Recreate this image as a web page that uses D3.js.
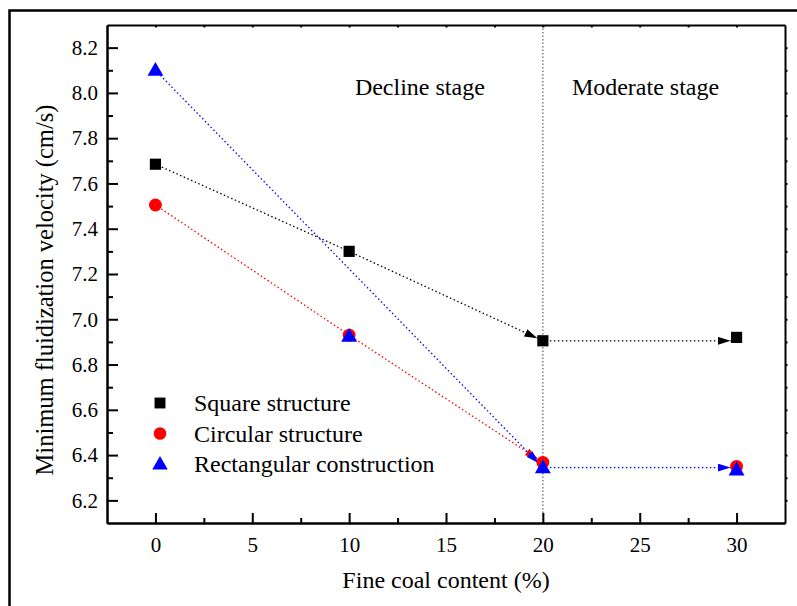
<!DOCTYPE html>
<html>
<head>
<meta charset="utf-8">
<script src="https://cdn.jsdelivr.net/npm/d3@7"></script>
<style>
  html, body { margin: 0; padding: 0; background: #fff; }
  svg { display: block; }
  svg text { font-family: "Liberation Serif", "Times New Roman", serif; fill: #000; }
</style>
</head>
<body>
<svg id="chart" width="797" height="606"></svg>
<script>
// Fine coal content (%) on the x axis
const fineCoal = [0, 10, 20, 30];
// Minimum fluidization velocity (cm/s) for each structure
const squareVel = [7.685, 7.30, 6.905, 6.92];
const circularVel = [7.505, 6.93, 6.368, 6.35];
const rectangularVel = [8.10, 6.925, 6.345, 6.335];

const seriesNames = ["Square structure", "Circular structure", "Rectangular construction"];
const xTickValues = [0, 5, 10, 15, 20, 25, 30];
const yTickValues = [6.2, 6.4, 6.6, 6.8, 7.0, 7.2, 7.4, 7.6, 7.8, 8.0, 8.2];
const stageLabels = ["Decline stage", "Moderate stage"];

// trend arrows: [from index, to index, keep level of start point, arrowhead]
const squareArrows = [[0, 1, false, false], [1, 2, false, true], [2, 3, true, true]];
const circularArrows = [[0, 1, false, false], [1, 2, false, true]];
const rectangularArrows = [[0, 2, false, true], [2, 3, true, true]];

const series = [
  { name: seriesNames[0], values: squareVel, color: "#000000", shape: "square", arrows: squareArrows },
  { name: seriesNames[1], values: circularVel, color: "#ff0000", shape: "circle", arrows: circularArrows },
  { name: seriesNames[2], values: rectangularVel, color: "#0000ff", shape: "triangle", arrows: rectangularArrows }
];

const svg = d3.select("#chart");
const plot = { left: 107, top: 25, right: 785, bottom: 523 };
const SERIF = '"Liberation Serif", "Times New Roman", serif';

const x = d3.scaleLinear().domain([-2.5, 32.5]).range([plot.left, plot.right]);
const y = d3.scaleLinear().domain([6.1, 8.3]).range([plot.bottom, plot.top]);

// outer frame
svg.append("rect")
  .attr("x", 9.5).attr("y", 10.5).attr("width", 820).attr("height", 640)
  .attr("fill", "none").attr("stroke", "#000").attr("stroke-width", 2.5);

// arrowhead markers
const defs = svg.append("defs");
series.forEach((s, i) => {
  defs.append("marker")
    .attr("id", "arrow" + i)
    .attr("markerUnits", "userSpaceOnUse")
    .attr("viewBox", "0 0 13 8")
    .attr("refX", 13).attr("refY", 4)
    .attr("markerWidth", 13).attr("markerHeight", 8)
    .attr("orient", "auto")
    .append("path").attr("d", "M0,0 L13,4 L0,8 Z").attr("fill", s.color);
});

// stage divider at 20 %
svg.append("line")
  .attr("x1", x(20)).attr("x2", x(20))
  .attr("y1", plot.top).attr("y2", plot.bottom)
  .attr("stroke", "#777").attr("stroke-width", 1.4)
  .attr("stroke-dasharray", "1.5,2");

// stage labels
svg.append("text").attr("x", x(13.65)).attr("y", 95)
  .attr("text-anchor", "middle").style("font-family", SERIF).style("font-size", "24px").text(stageLabels[0]);
svg.append("text").attr("x", x(25.3)).attr("y", 95)
  .attr("text-anchor", "middle").style("font-family", SERIF).style("font-size", "24px").text(stageLabels[1]);

// dotted trend arrows
series.forEach((s, i) => {
  s.arrows.forEach(([a, b, level, head]) => {
    const x1 = x(fineCoal[a]), y1 = y(s.values[a]);
    const x2 = x(fineCoal[b]), y2 = level ? y1 : y(s.values[b]);
    const len = Math.hypot(x2 - x1, y2 - y1);
    const ux = (x2 - x1) / len, uy = (y2 - y1) / len;
    const s0 = 7, s1 = 6;
    svg.append("line")
      .attr("x1", x1 + ux * s0).attr("y1", y1 + uy * s0)
      .attr("x2", x2 - ux * s1).attr("y2", y2 - uy * s1)
      .attr("stroke", s.color).attr("stroke-width", 1.3)
      .attr("stroke-dasharray", "1.5,2.5")
      .attr("marker-end", head ? "url(#arrow" + i + ")" : null);
  });
});

// markers
const symbolType = { square: d3.symbolSquare, circle: d3.symbolCircle, triangle: d3.symbolTriangle };
const symbolSize = { square: 125, circle: 130, triangle: 110 };
function drawSymbol(g, shape, color, cx, cy, scale) {
  const k = scale || 1;
  g.append("path")
    .attr("d", d3.symbol().type(symbolType[shape]).size(symbolSize[shape] * k)())
    .attr("transform", `translate(${cx},${cy + (shape === "triangle" ? 1 : 0)})`)
    .attr("fill", color);
}
const markG = svg.append("g");
series.forEach(s => {
  s.values.forEach((v, j) => drawSymbol(markG, s.shape, s.color, x(fineCoal[j]), y(v)));
});

// axes
const axisG = svg.append("g");
function styleAxis(g) {
  g.attr("font-family", null).attr("font-size", null);
  g.select(".domain").attr("stroke", "#000").attr("stroke-width", 2);
  g.selectAll(".tick line").attr("stroke", "#000").attr("stroke-width", 2);
  g.selectAll("text").attr("fill", "#000").style("font-family", SERIF).style("font-size", "21px");
}
const xMinor = d3.range(-2.5, 32.6, 2.5).filter(v => v % 5 !== 0 && v > -2.5 && v < 32.5);
const yMinor = d3.range(6.1, 8.31, 0.1).map(v => +v.toFixed(1)).filter(v => Math.round(v * 10) % 2 === 1 && v > 6.1 && v < 8.3);

axisG.append("g").attr("transform", `translate(0,${plot.bottom})`)
  .call(d3.axisBottom(x).tickValues(xMinor).tickSize(-5).tickFormat("").tickSizeOuter(0)).call(styleAxis);
axisG.append("g").attr("transform", `translate(0,${plot.bottom})`)
  .call(d3.axisBottom(x).tickValues(xTickValues).tickSize(-10).tickPadding(14).tickSizeOuter(0).tickFormat(d3.format("d"))).call(styleAxis);
axisG.append("g").attr("transform", `translate(${plot.left},0)`)
  .call(d3.axisLeft(y).tickValues(yMinor).tickSize(-6).tickFormat("").tickSizeOuter(0)).call(styleAxis);
axisG.append("g").attr("transform", `translate(${plot.left},0)`)
  .call(d3.axisLeft(y).tickValues(yTickValues).tickSize(-11).tickPadding(9).tickSizeOuter(0).tickFormat(d3.format(".1f"))).call(styleAxis);
// mirrored top and right axes with short ticks
axisG.append("g").attr("transform", `translate(0,${plot.top})`)
  .call(d3.axisTop(x).tickValues(xTickValues.concat(xMinor)).tickSize(-2.5).tickFormat("").tickSizeOuter(0)).call(styleAxis);
axisG.append("g").attr("transform", `translate(${plot.right},0)`)
  .call(d3.axisRight(y).tickValues(yTickValues.concat(yMinor)).tickSize(2.5).tickFormat("").tickSizeOuter(0)).call(styleAxis);

// axis titles
svg.append("text").attr("x", 446).attr("y", 588)
  .attr("text-anchor", "middle").style("font-family", SERIF).style("font-size", "24px").text("Fine coal content (%)");
svg.append("text").attr("transform", "translate(53,290) rotate(-90)")
  .attr("text-anchor", "middle").style("font-family", SERIF).style("font-size", "24.5px").text("Minimum fluidization velocity (cm/s)");

// legend
const legend = svg.append("g");
series.forEach((s, i) => {
  const ly = 403 + i * 30.5;
  drawSymbol(legend, s.shape, s.color, 160, ly, 0.95);
  legend.append("text").attr("x", 194).attr("y", ly + 8)
    .style("font-family", SERIF).style("font-size", "24px").text(s.name);
});
</script>
</body>
</html>
